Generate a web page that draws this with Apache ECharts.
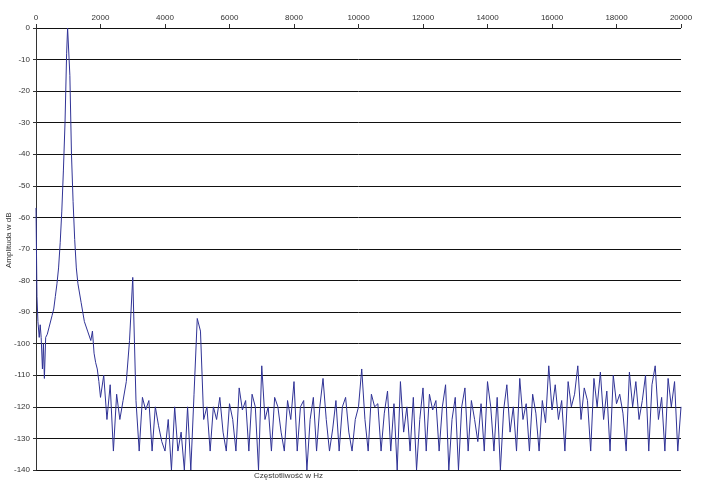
<!DOCTYPE html>
<html>
<head>
<meta charset="utf-8">
<script src="https://cdn.jsdelivr.net/npm/echarts@6/dist/echarts.min.js"></script>
<style>
  body { margin: 0; background: #fff; }
  #main { width: 705px; height: 485px; }
</style>
</head>
<body>
<div id="main"></div>
<script>
// low band, irregular sampling around the 1 kHz peak
const lowFreqs = [0, 30, 60, 100, 130, 160, 200, 230, 260, 300, 350, 400, 450, 500, 550, 600, 650, 700, 750, 800, 850, 900, 950, 980, 1010, 1050, 1100, 1150, 1200, 1250, 1300, 1400, 1500, 1600, 1700, 1750, 1800, 1850, 1900, 1950, 2000]
const lowAmps = [-57, -85, -93, -98, -94, -98, -108, -100, -111, -98, -97, -95, -95, -91, -89, -85, -81, -76, -68, -58, -45, -30, -8, 0, 0, -15, -40, -55, -67, -76, -81, -87, -93, -96, -99, -96, -103, -106, -108, -112, -117]
// noise floor, 100 Hz steps from 2100 Hz to 20000 Hz
const noiseStart = 2100
const noiseStep = 100
const noiseAmps = [
  -110, -124, -113, -134, -116, -124, -118, -112, -99, -79,
  -118, -134, -117, -121, -118, -134, -120, -126, -131, -134,
  -124, -140, -120, -134, -128, -140, -120, -140, -116, -92,
  -96, -124, -120, -134, -120, -124, -117, -128, -134, -119,
  -124, -134, -114, -121, -118, -134, -116, -120, -140, -107,
  -124, -120, -134, -117, -120, -128, -134, -118, -124, -112,
  -134, -120, -118, -140, -124, -117, -134, -120, -111, -124,
  -134, -127, -118, -134, -120, -117, -128, -134, -124, -120,
  -108, -124, -134, -116, -120, -119, -134, -122, -115, -134,
  -119, -140, -112, -128, -120, -134, -117, -140, -124, -114,
  -134, -116, -121, -118, -134, -120, -113, -140, -124, -117,
  -140, -120, -114, -134, -118, -124, -131, -119, -134, -112,
  -120, -134, -117, -140, -121, -113, -128, -120, -134, -111,
  -124, -119, -134, -116, -122, -134, -118, -125, -107, -121,
  -113, -124, -118, -134, -112, -120, -116, -107, -124, -114,
  -118, -134, -111, -120, -109, -124, -115, -134, -110, -119,
  -116, -122, -134, -109, -120, -112, -124, -118, -110, -134,
  -113, -107, -124, -117, -134, -111, -120, -112, -134, -120
]

const data = lowFreqs.map((f, i) => [f, lowAmps[i]])
noiseAmps.forEach((a, i) => data.push([noiseStart + i * noiseStep, a]))

const chart = echarts.init(document.getElementById('main'))
chart.setOption({
  animation: false,
  grid: { left: 36, right: 24, top: 28, bottom: 15, outerBoundsMode: 'none', containLabel: false },
  xAxis: {
    type: 'value', position: 'top', min: 0, max: 20000, interval: 2000,
    axisLine: { show: false },
    axisTick: { show: true, length: 4, lineStyle: { color: '#333' } },
    axisLabel: { fontSize: 8, color: '#333', fontFamily: 'Liberation Sans', margin: 6, formatter: v => String(v) },
    splitLine: { show: false }
  },
  yAxis: {
    type: 'value', min: -140, max: 0, interval: 10,
    axisLine: { show: true, lineStyle: { color: '#333' } },
    axisTick: { show: true, length: 3, lineStyle: { color: '#333' } },
    axisLabel: { fontSize: 8, color: '#333', fontFamily: 'Liberation Sans', margin: 6 },
    splitLine: { show: true, lineStyle: { color: '#111', width: 1 } }
  },
  graphic: [{
    type: 'text', left: 254, top: 472,
    style: { text: 'Częstotliwość w Hz', fontSize: 8, fill: '#333', fontFamily: 'Liberation Sans' }
  }, {
    type: 'text', x: 5, y: 268, rotation: Math.PI / 2,
    style: { text: 'Amplituda w dB', fontSize: 8, fill: '#333', fontFamily: 'Liberation Sans' }
  }],
  series: [{
    type: 'line', data: data, showSymbol: false,
    lineStyle: { color: '#303396', width: 1 }
  }]
})
</script>
</body>
</html>
